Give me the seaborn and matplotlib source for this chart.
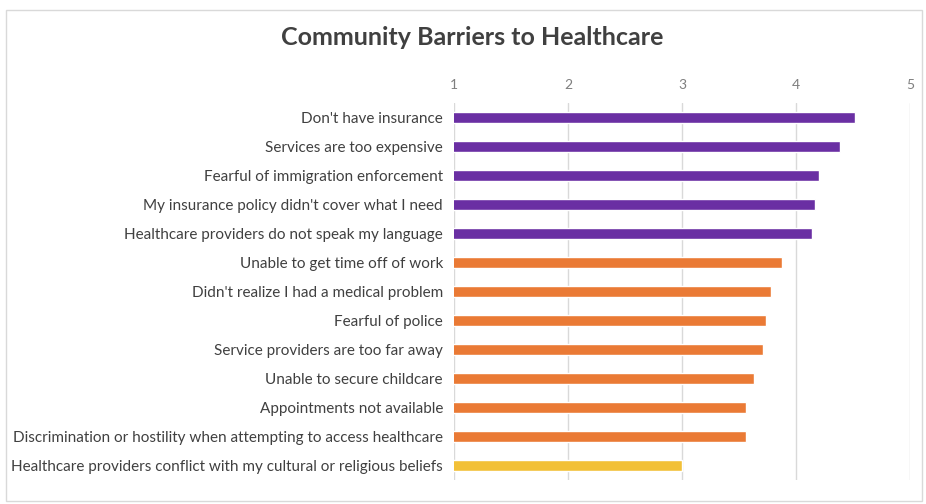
import matplotlib
matplotlib.use("Agg")
import matplotlib.pyplot as plt
import seaborn as sns
import pandas as pd

categories = [
    "Don't have insurance",
    "Services are too expensive",
    "Fearful of immigration enforcement",
    "My insurance policy didn't cover what I need",
    "Healthcare providers do not speak my language",
    "Unable to get time off of work",
    "Didn't realize I had a medical problem",
    "Fearful of police",
    "Service providers are too far away",
    "Unable to secure childcare",
    "Appointments not available",
    "Discrimination or hostility when attempting to access healthcare",
    "Healthcare providers conflict with my cultural or religious beliefs",
]
values = [4.52, 4.39, 4.20, 4.17, 4.14, 3.88, 3.78, 3.74, 3.71, 3.63, 3.56, 3.56, 3.00]
groups = ["high"] * 5 + ["mid"] * 7 + ["low"]
tick_values = [1, 2, 3, 4, 5]

palette = {"high": "#6a2fa3", "mid": "#ea7a35", "low": "#f2c037"}

df = pd.DataFrame({"barrier": categories, "score": values, "group": groups})

sns.set_theme(style="white")
plt.rcParams["font.family"] = ["Lato", "DejaVu Sans"]

fig = plt.figure(figsize=(9.26, 5.04), dpi=100)
ax = fig.add_axes([0.4903, 0.0476, 0.4924, 0.748])

sns.barplot(data=df, x="score", y="barrier", hue="group", palette=palette,
            dodge=False, legend=False, width=0.38, saturation=1, ax=ax, orient="h")

ax.set_xlim(1, 5)
ax.set_xticks(tick_values)
ax.set_xticklabels([str(t) for t in tick_values])
ax.xaxis.tick_top()
ax.tick_params(axis="x", length=0, pad=9, labelsize=10, labelcolor="#7f7f7f")
ax.tick_params(axis="y", length=0, pad=8, labelsize=11, labelcolor="#404040")
ax.set_xlabel("")
ax.set_ylabel("")
ax.grid(axis="x", color="#d9d9d9", linewidth=1)
ax.set_axisbelow(True)
for s in ax.spines.values():
    s.set_visible(False)

fig.text(0.51, 0.925, "Community Barriers to Healthcare", ha="center", va="center",
         fontsize=18, fontweight="bold", color="#404040")

fig.patches.append(plt.Rectangle((0.006, 0.005), 0.99, 0.975, transform=fig.transFigure,
                                 fill=False, edgecolor="#d9d9d9", linewidth=1))

fig.savefig("out.png", dpi=100)
